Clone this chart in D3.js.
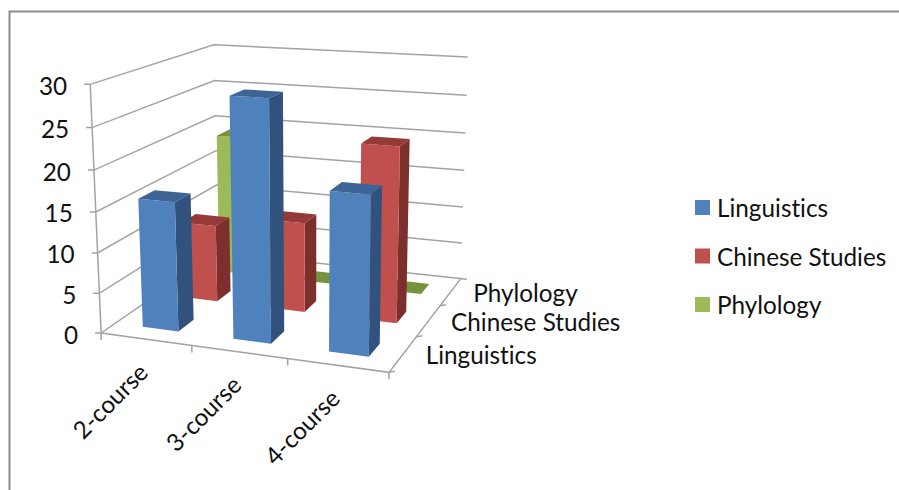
<!DOCTYPE html>
<html><head><meta charset="utf-8">
<script src="https://cdn.jsdelivr.net/npm/d3@7/dist/d3.min.js"></script>
<style>html,body{margin:0;padding:0;background:#fff}svg{display:block}text{font-family:Lato,Carlito,"Open Sans",sans-serif;fill:#111;font-variant-ligatures:none}</style>
</head><body><svg id="c" width="899" height="490"></svg>
<script>
const categories = ["2-course","3-course","4-course"];
const seriesNames = ["Linguistics","Chinese Studies","Phylology"];
const linguistics = [16,29,19];
const chineseStudies = [10,11.5,22];
const phylology = [19,0,0];
const yTicks = [0,5,10,15,20,25,30];
const seriesValues = [linguistics,chineseStudies,phylology];
const fronts = ["#4f81bd","#c0504d","#9bbb59"];
const sides  = ["#30527d","#7c2f2d","#68803a"];
const tops   = ["#3c6595","#953a38","#76923c"];

// view calibration: model corner (u,v,w) -> page pixel
const calib = [
 [0,1,0,92,85],[0,5/6,0,93,127],[0,4/6,0,94,169],[0,.5,0,95,212],[0,2/6,0,97,253],[0,1/6,0,98,293],[0,0,0,102,333],
 [1/3,0,0,192,346],[2/3,0,0,287,359.5],[1,0,0,388,373],
 [1,0,1/3,418,336],[1,0,2/3,439,305],[1,0,1,460,278],
 [0,1,1,213,45],[0,5/6,1,213.5,80],[0,4/6,1,214,116],[0,0,1,220,253],
 [1,1,1,468,57],[1,5/6,1,467,96],[1,4/6,1,465.5,133],[1,.5,1,465,170],[1,2/6,1,463,207],[1,1/6,1,462,243]
];
function fit(pts){
  const A=[],b=[];
  pts.forEach(([u,v,w,x,y])=>{
    A.push([u,v,w,1,0,0,0,0,-x*u,-x*v,-x*w]);b.push(x);
    A.push([0,0,0,0,u,v,w,1,-y*u,-y*v,-y*w]);b.push(y);
  });
  const n=11,M=d3.range(n).map(i=>d3.range(n+1).map(j=>{
    let s=0;A.forEach((r,k)=>{s+=r[i]*(j<n?r[j]:b[k])});return s+((i==j)?1e-9:0);}));
  for(let i=0;i<n;i++){
    let p=i;for(let r=i+1;r<n;r++)if(Math.abs(M[r][i])>Math.abs(M[p][i]))p=r;
    [M[i],M[p]]=[M[p],M[i]];
    for(let r=0;r<n;r++)if(r!==i){const f=M[r][i]/M[i][i];for(let c=i;c<=n;c++)M[r][c]-=f*M[i][c];}
  }
  return M.map((r,i)=>r[n]/r[i]);
}
const h=fit(calib);
const proj=(u,v,w)=>{const d=h[8]*u+h[9]*v+h[10]*w+1;
  return [(h[0]*u+h[1]*v+h[2]*w+h[3])/d,(h[4]*u+h[5]*v+h[6]*w+h[7])/d];};

const x=d3.scaleBand().domain(categories).range([.004,1.004]).paddingInner(.6).paddingOuter(.3);
const z=d3.scaleBand().domain(seriesNames).range([0,1]).paddingInner(.625).paddingOuter(.3125);
const y=d3.scaleLinear().domain([0,30]).range([0,1]);

const svg=d3.select("#c");
const line=d3.line();
const GRID="#a3a3a3";
const FS=24.3;
// frame
svg.append("path").attr("d","M9.5,490V11.5H899").attr("fill","none").attr("stroke","#8c8c8c").attr("stroke-width",2);

const g=svg.append("g");
// walls
yTicks.forEach(t=>{
  const v=y(t);
  const P0=proj(0,v,0),P1=proj(0,v,1),P2=proj(1,v,1);
  const end=t===0?[P2[0]+6,P2[1]+.6]:P2;
  g.append("path").attr("d",line([[P0[0]-6,P0[1]],P0,P1,end])).attr("fill","none").attr("stroke",GRID).attr("stroke-width",1.5);
  svg.append("text").attr("x",P0[0]-23).attr("y",P0[1]+1).attr("text-anchor","end")
    .attr("dominant-baseline","central").attr("font-size",FS).text(t);
});
// y axis + floor edges
g.append("path").attr("d",line([proj(0,1,0),proj(0,0,0),proj(1,0,0),proj(1,0,1)])).attr("fill","none").attr("stroke",GRID).attr("stroke-width",1.5);
// category boundary ticks
d3.range(0,4).forEach(i=>{const p=proj(i/3,0,0);
  g.append("path").attr("d",line([p,[p[0],p[1]+7]])).attr("stroke",GRID).attr("stroke-width",1.5);});
d3.range(0,3).forEach(i=>{const p=proj(1,0,i/3);
  g.append("path").attr("d",line([p,[p[0]+6,p[1]-1]])).attr("stroke",GRID).attr("stroke-width",1.5);});

// bars back to front
const bars=svg.append("g");
d3.range(seriesNames.length-1,-1,-1).forEach(si=>{
  const wa=z(seriesNames[si]),wb=wa+z.bandwidth();
  categories.forEach((c,ci)=>{
    const ua=x(c),ub=ua+x.bandwidth(),v=y(seriesValues[si][ci]);
    const poly=(pts,fill)=>bars.append("path").attr("d",line(pts.map(p=>proj(...p)))+"Z").attr("fill",fill);
    if(v>0){
      poly([[ub,0,wa],[ub,0,wb],[ub,v,wb],[ub,v,wa]],sides[si]);
      poly([[ua,0,wa],[ub,0,wa],[ub,v,wa],[ua,v,wa]],fronts[si]);
    }
    poly([[ua,v,wa],[ub,v,wa],[ub,v,wb],[ua,v,wb]],tops[si]);
  });
});

// category labels
categories.forEach(c=>{
  const p=proj(x(c)+x.bandwidth()/2,0,0);
  svg.append("text").attr("transform",`translate(${p[0]-4},${p[1]+28}) rotate(-45)`)
    .attr("text-anchor","end").attr("dominant-baseline","central").attr("font-size",FS).text(c);
});
// depth labels
seriesNames.forEach(s=>{
  const p=proj(1,0,z(s)+z.bandwidth()/2);
  svg.append("text").attr("x",p[0]+22.5).attr("y",p[1]+.5).attr("dominant-baseline","central").attr("font-size",FS).text(s);
});
// legend
const ly=d3.scalePoint().domain(seriesNames).range([207.5,304.5]);
seriesNames.forEach((s,i)=>{
  svg.append("rect").attr("x",695).attr("y",ly(s)-7.5).attr("width",15).attr("height",15).attr("fill",fronts[i]);
  svg.append("text").attr("x",717).attr("y",ly(s)).attr("dominant-baseline","central").attr("font-size",FS).text(s);
});
</script></body></html>
